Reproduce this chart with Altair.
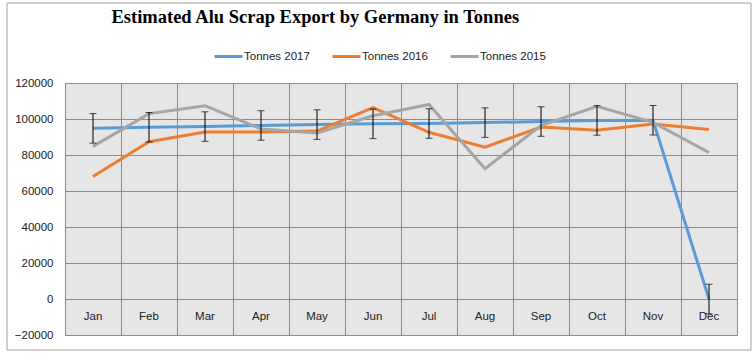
import altair as alt
import pandas as pd

months = ["Jan", "Feb", "Mar", "Apr", "May", "Jun", "Jul", "Aug", "Sep", "Oct", "Nov", "Dec"]
t2017 = [94800, 95400, 95800, 96400, 96900, 97300, 97500, 98000, 98600, 99200, 99300, 0]
t2016 = [68100, 87400, 92800, 92800, 93300, 106300, 92600, 84400, 95500, 93700, 97200, 94200]
t2015 = [84800, 103000, 107400, 94400, 92200, 101800, 108100, 72400, 96300, 107000, 98100, 81400]
err2017 = [8200] * 12
series = ["Tonnes 2017", "Tonnes 2016", "Tonnes 2015"]
colors = ["#5B9BD5", "#ED7D31", "#A5A5A5"]
y_ticks = [-20000, 0, 20000, 40000, 60000, 80000, 100000, 120000]

rows = []
for name, vals in zip(series, [t2017, t2016, t2015]):
    for i, (m, v) in enumerate(zip(months, vals)):
        rows.append({"series": name, "idx": i + 1, "month": m, "value": v})
df = pd.DataFrame(rows)

err_df = pd.DataFrame({
    "idx": list(range(1, 13)),
    "lo": [v - e for v, e in zip(t2017, err2017)],
    "hi": [v + e for v, e in zip(t2017, err2017)],
})
lab_df = pd.DataFrame({"idx": list(range(1, 13)), "month": months, "ypos": [-10000] * 12})

xgrid = [i + 0.5 for i in range(0, 13)]
xs = alt.Scale(domain=[0.5, 12.5], nice=False, zero=False)
ys = alt.Scale(domain=[-20000, 120000], nice=False, zero=False)

x_axis = alt.Axis(values=xgrid, grid=True, labels=False, ticks=False,
                  domain=False, title=None, gridColor="#8C8C8C", gridWidth=1)
y_axis = alt.Axis(values=y_ticks, grid=True, ticks=False, domain=False,
                  title=None, format="d", labelPadding=12, labelOverlap=False,
                  labelFont="Liberation Sans", labelFontSize=11.5,
                  labelColor="#222222", gridColor="#8C8C8C", gridWidth=1)


def X(field):
    return alt.X(field, scale=xs, axis=x_axis)


def Y(field):
    return alt.Y(field, scale=ys, axis=y_axis)


labels = alt.Chart(lab_df).mark_text(font="Liberation Sans", fontSize=11.5, color="#222222").encode(
    x=X("idx:Q"), y=Y("ypos:Q"), text="month:N")

lines = alt.Chart(df).mark_line(strokeWidth=3).encode(
    x=X("idx:Q"),
    y=Y("value:Q"),
    color=alt.Color("series:N", scale=alt.Scale(domain=series, range=colors),
                    sort=series,
                    legend=alt.Legend(title=None, orient="none", direction="horizontal",
                                      legendX=148, legendY=-42, gridAlign="none",
                                      symbolType="stroke", symbolStrokeWidth=3,
                                      symbolSize=784, labelOffset=0, columnPadding=16,
                                      labelFont="Liberation Sans", labelFontSize=11.5,
                                      labelColor="#222222")),
    order=alt.Order("idx:Q"),
)

rules = alt.Chart(err_df).mark_rule(color="black", strokeWidth=1).encode(
    x=X("idx:Q"), y=Y("lo:Q"), y2="hi:Q")
caps_hi = alt.Chart(err_df).mark_tick(orient="horizontal", size=7, thickness=1, color="black").encode(
    x=X("idx:Q"), y=Y("hi:Q"))
caps_lo = alt.Chart(err_df).mark_tick(orient="horizontal", size=7, thickness=1, color="black").encode(
    x=X("idx:Q"), y=Y("lo:Q"))

frame = alt.Chart(pd.DataFrame({"a": [0]})).mark_rect(fill=None, stroke="#A0A0A0", strokeWidth=1).encode(
    x=alt.value(-58), x2=alt.value(686), y=alt.value(-80), y2=alt.value(267))

chart = alt.layer(labels, frame, lines, rules, caps_hi, caps_lo).properties(
    width=672, height=252,
    autosize=alt.AutoSizeParams(type="none"),
    padding={"left": 65, "top": 83, "right": 19, "bottom": 19},
    background="white",
    title=alt.TitleParams("Estimated Alu Scrap Export by Germany in Tonnes",
                          font="Liberation Serif", fontSize=18.5, fontWeight="bold",
                          color="black", anchor="start", dx=105, offset=0, dy=39,
                          baseline="alphabetic"),
).configure_view(fill="#E6E6E6", stroke="#8C8C8C", strokeWidth=1).configure_axis(labelOverlap=False)

chart.save("out.html", embed_options={"renderer": "svg", "actions": False})
